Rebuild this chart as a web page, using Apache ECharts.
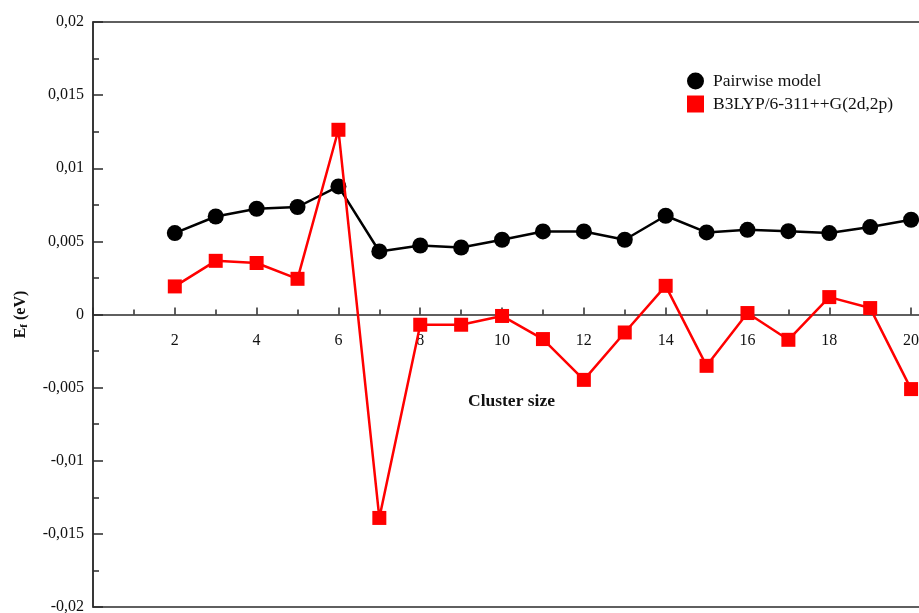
<!DOCTYPE html>
<html>
<head>
<meta charset="utf-8">
<script src="https://cdn.jsdelivr.net/npm/echarts@6/dist/echarts.min.js"></script>
<style>
  html, body { margin: 0; padding: 0; background: #fff; }
  #chart { width: 919px; height: 613px; }
</style>
</head>
<body>
<div id="chart"></div>
<script>
// Cluster sizes and formation energies E_f (eV)
const clusterSizes = [2, 3, 4, 5, 6, 7, 8, 9, 10, 11, 12, 13, 14, 15, 16, 17, 18, 19, 20];
const pairwiseModel = [0.00557, 0.0067, 0.00723, 0.00735, 0.00876, 0.00431, 0.00472, 0.00458, 0.00511,
  0.00568, 0.00568, 0.00511, 0.00675, 0.00561, 0.00579, 0.0057, 0.00557, 0.00598, 0.00648];
const b3lyp = [0.00192, 0.00367, 0.00352, 0.00244, 0.01263, -0.01391, -0.0007, -0.0007, -0.0001,
  -0.00168, -0.00447, -0.00123, 0.00196, -0.00351, 0.0001, -0.00173, 0.00119, 0.00044, -0.0051];

const seriesNames = ['Pairwise model', 'B3LYP/6-311++G(2d,2p)'];

// Axis tick labels (comma decimal separator)
const yTickValues = [-0.02, -0.015, -0.01, -0.005, 0, 0.005, 0.01, 0.015, 0.02];
const yTickLabels = ['-0,02', '-0,015', '-0,01', '-0,005', '0', '0,005', '0,01', '0,015', '0,02'];
const xTickValues = [2, 4, 6, 8, 10, 12, 14, 16, 18, 20];
const xTickLabels = ['2', '4', '6', '8', '10', '12', '14', '16', '18', '20'];

const FONT = 'Liberation Serif';
const AXIS_COLOR = '#2b2b2b';

function pick(values, labels, v) {
  for (let i = 0; i < values.length; i++) {
    if (Math.abs(values[i] - v) < 1e-9) return labels[i];
  }
  return '';
}

const chart = echarts.init(document.getElementById('chart'), null, { renderer: 'canvas' });

chart.setOption({
  backgroundColor: '#ffffff',
  animation: false,
  grid: {
    left: 93,
    right: -33,
    top: 22,
    bottom: 6,
    show: true,
    borderColor: AXIS_COLOR,
    borderWidth: 1.5,
    backgroundColor: 'transparent',
    containLabel: false,
    outerBoundsMode: 'none'
  },
  legend: {
    left: 682,
    top: 67,
    orient: 'vertical',
    itemWidth: 17,
    itemHeight: 17,
    itemGap: 5,
    textStyle: { fontFamily: FONT, fontSize: 17.5, color: '#111', padding: [0, 0, 0, 4] },
    data: [
      { name: seriesNames[0], icon: 'circle', itemStyle: { color: '#000' } },
      { name: seriesNames[1], icon: 'rect', itemStyle: { color: '#ff0000' } }
    ]
  },
  xAxis: {
    type: 'value',
    min: 0,
    max: 21,
    interval: 2,
    axisLine: { onZero: true, lineStyle: { color: AXIS_COLOR, width: 1.5 } },
    axisTick: { show: true, inside: true, length: 7, lineStyle: { color: AXIS_COLOR, width: 1.5 } },
    minorTick: { show: true, splitNumber: 2, length: 5, lineStyle: { color: AXIS_COLOR, width: 1.5 } },
    splitLine: { show: false },
    // tick labels sit just below the zero line
    axisLabel: {
      inside: true,
      margin: 258,
      fontFamily: FONT,
      fontSize: 16,
      color: '#111',
      formatter: v => pick(xTickValues, xTickLabels, v)
    }
  },
  yAxis: {
    type: 'value',
    min: -0.02,
    max: 0.02,
    interval: 0.005,
    name: '{b|E}{s|f}{b| (eV)}',
    nameLocation: 'middle',
    nameRotate: 90,
    nameGap: 63,
    nameTextStyle: {
      rich: {
        b: { fontFamily: FONT, fontSize: 16, fontWeight: 'bold', color: '#111' },
        s: { fontFamily: FONT, fontSize: 11, fontWeight: 'bold', color: '#111', verticalAlign: 'bottom', padding: [8, 0, 0, 0] }
      }
    },
    axisLine: { show: true, lineStyle: { color: AXIS_COLOR, width: 1.5 } },
    axisTick: { show: true, inside: true, length: 10, lineStyle: { color: AXIS_COLOR, width: 1.5 } },
    minorTick: { show: true, splitNumber: 2, length: 6, lineStyle: { color: AXIS_COLOR, width: 1.5 } },
    splitLine: { show: false },
    axisLabel: {
      margin: 9,
      fontFamily: FONT,
      fontSize: 16,
      color: '#111',
      formatter: v => pick(yTickValues, yTickLabels, v)
    }
  },
  graphic: [
    {
      type: 'text',
      left: 468,
      top: 392,
      style: {
        text: 'Cluster size',
        font: 'bold 17.5px "Liberation Serif"',
        fill: '#111'
      }
    }
  ],
  series: [
    {
      name: seriesNames[0],
      type: 'line',
      data: clusterSizes.map((n, i) => [n, pairwiseModel[i]]),
      symbol: 'circle',
      symbolSize: 16,
      lineStyle: { color: '#000', width: 2.5 },
      itemStyle: { color: '#000' },
      z: 2
    },
    {
      name: seriesNames[1],
      type: 'line',
      data: clusterSizes.map((n, i) => [n, b3lyp[i]]),
      symbol: 'rect',
      symbolSize: 14,
      lineStyle: { color: '#ff0000', width: 2.5 },
      itemStyle: { color: '#ff0000' },
      z: 3
    }
  ]
});
</script>
</body>
</html>
